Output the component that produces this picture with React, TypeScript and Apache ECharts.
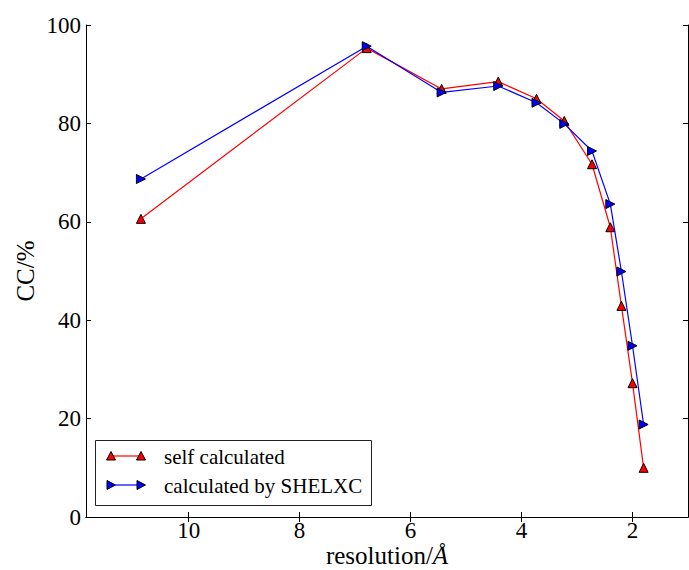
import React, { useEffect, useRef } from "react";
import * as echarts from "echarts";

const resolution = [10.86, 6.79, 5.44, 4.42, 3.73, 3.23, 2.73, 2.4, 2.2, 2.0, 1.8];
const selfCalculated = [60.6, 95.3, 87.0, 88.5, 85.0, 80.5, 71.7, 58.9, 42.9, 27.2, 10.0];
const shelxc = [68.7, 95.7, 86.3, 87.6, 84.2, 79.9, 74.4, 63.6, 49.9, 34.8, 18.8];
const xTicks = [2, 4, 6, 8, 10];
const seriesNames = ["self calculated", "calculated by SHELXC"];
const xName = "resolution/";
const yName = "CC/%";

const FONT = "Liberation Serif";

function upTri(x: number, y: number, c: string) {
  return {
    type: "polygon",
    z: 101,
    shape: { points: [[x - 4.5, y + 4], [x, y - 4.5], [x + 4.5, y + 4]] },
    style: { fill: c, stroke: "#000", lineWidth: 1 },
  };
}
function rightTri(x: number, y: number, c: string) {
  return {
    type: "polygon",
    z: 101,
    shape: { points: [[x - 4, y - 4.5], [x + 4.5, y], [x - 4, y + 4.5]] },
    style: { fill: c, stroke: "#000", lineWidth: 1 },
  };
}

export default function App() {
  const ref = useRef<HTMLDivElement>(null);
  useEffect(() => {
    if (!ref.current) return;
    const chart = echarts.init(ref.current, null, { renderer: "svg", width: 689, height: 570 });
    const red = "#ff0000";
    const blue = "#0000ff";
    const xMin = 1.0;
    const xMax = 11.85;
    const commonX = {
      type: "value",
      min: xMin,
      max: xMax,
      inverse: true,
      splitLine: { show: false },
      axisLine: { lineStyle: { color: "#000", width: 1 } },
    };
    const option: any = {
      animation: false,
      backgroundColor: "#fff",
      grid: { left: 86, top: 25, right: 1, bottom: 53, containLabel: false, outerBoundsMode: "none" },
      xAxis: [
        {
          ...commonX,
          position: "bottom",
          name: "{a|" + xName + "}{b|Å}",
          nameLocation: "middle",
          nameGap: 26,
          nameMoveOverlap: false,
          nameTextStyle: {
            rich: {
              a: { fontFamily: FONT, fontSize: 25, color: "#000" },
              b: { fontFamily: FONT, fontSize: 25, color: "#000", fontStyle: "italic" },
            },
          },
          axisTick: { show: true, inside: true, length: 5, customValues: xTicks, lineStyle: { color: "#000" } },
          axisLabel: { show: true, customValues: xTicks, fontFamily: FONT, fontSize: 23, color: "#000", margin: 2 },
        },
        {
          ...commonX,
          position: "top",
          axisTick: { show: true, inside: true, length: 5, customValues: xTicks, lineStyle: { color: "#000" } },
          axisLabel: { show: false },
        },
      ],
      yAxis: [
        {
          type: "value",
          min: 0,
          max: 100,
          interval: 20,
          position: "left",
          name: yName,
          nameLocation: "middle",
          nameGap: 48,
          nameMoveOverlap: false,
          nameTextStyle: { fontFamily: FONT, fontSize: 25, color: "#000" },
          splitLine: { show: false },
          axisLine: { show: true, lineStyle: { color: "#000", width: 1 } },
          axisTick: { show: true, inside: true, length: 5, lineStyle: { color: "#000" } },
          axisLabel: { fontFamily: FONT, fontSize: 23, color: "#000", margin: 5 },
        },
        {
          type: "value",
          min: 0,
          max: 100,
          interval: 20,
          position: "right",
          splitLine: { show: false },
          axisLine: { show: true, lineStyle: { color: "#000", width: 1 } },
          axisTick: { show: true, inside: true, length: 5, lineStyle: { color: "#000" } },
          axisLabel: { show: false },
        },
      ],
      series: [
        {
          name: seriesNames[0],
          type: "line",
          data: resolution.map((r, i) => [r, selfCalculated[i]]),
          symbol: "triangle",
          symbolSize: 9,
          lineStyle: { color: red, width: 1.2 },
          itemStyle: { color: red, borderColor: "#000", borderWidth: 1 },
          z: 3,
        },
        {
          name: seriesNames[1],
          type: "line",
          data: resolution.map((r, i) => [r, shelxc[i]]),
          symbol: "triangle",
          symbolRotate: -90,
          symbolSize: 9,
          lineStyle: { color: blue, width: 1.2 },
          itemStyle: { color: blue, borderColor: "#000", borderWidth: 1 },
          z: 4,
        },
      ],
      graphic: [
        {
          type: "rect",
          z: 100,
          shape: { x: 95.5, y: 440.5, width: 276, height: 65 },
          style: { fill: "#fff", stroke: "#222", lineWidth: 1 },
        },
        {
          type: "line",
          z: 101,
          shape: { x1: 111, y1: 456, x2: 141, y2: 456 },
          style: { stroke: red, lineWidth: 1.2 },
        },
        upTri(111, 456, red),
        upTri(141, 456, red),
        {
          type: "text",
          z: 101,
          x: 164,
          y: 457,
          style: {
            text: seriesNames[0],
            fontFamily: FONT,
            fontSize: 21,
            fill: "#000",
            textVerticalAlign: "middle",
          },
        },
        {
          type: "line",
          z: 101,
          shape: { x1: 111, y1: 485, x2: 141, y2: 485 },
          style: { stroke: blue, lineWidth: 1.2 },
        },
        rightTri(111, 485, blue),
        rightTri(141, 485, blue),
        {
          type: "text",
          z: 101,
          x: 164,
          y: 486,
          style: {
            text: seriesNames[1],
            fontFamily: FONT,
            fontSize: 21,
            fill: "#000",
            textVerticalAlign: "middle",
          },
        },
      ],
    };
    chart.setOption(option);
    return () => chart.dispose();
  }, []);
  return (
    <div
      ref={ref}
      style={{ position: "fixed", left: 0, top: 0, width: 689, height: 570 }}
    />
  );
}
